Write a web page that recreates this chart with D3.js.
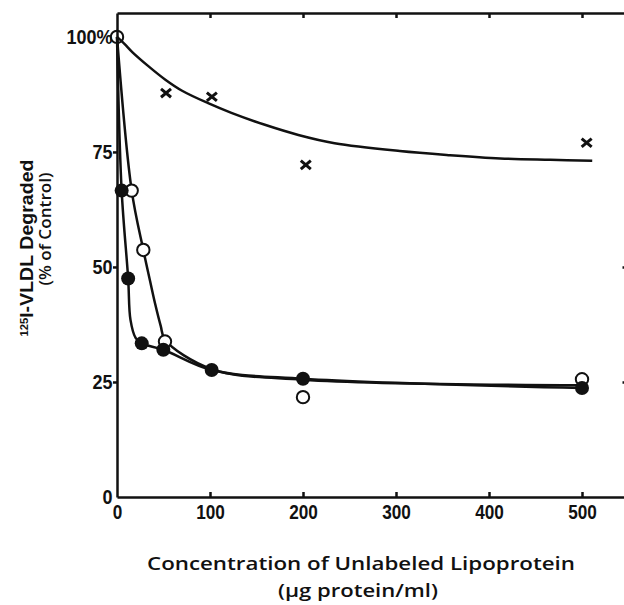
<!DOCTYPE html>
<html>
<head>
<meta charset="utf-8">
<script src="https://cdn.jsdelivr.net/npm/d3@7"></script>
<style>
  body { margin: 0; background: #fff; }
  svg { display: block; }
  .axis path, .axis line { stroke: #111; stroke-width: 2.5; }
  .axis text { font-family: "Liberation Sans", Arial, sans-serif; font-weight: bold; font-size: 20px; fill: #111; }
</style>
</head>
<body>
<div id="chart-area"></div>
<script>
// Data

// open circles
let openX = [0, 15.8, 28.3, 51.6, 200, 500];
let openY = [100, 66.6, 53.7, 33.8, 21.7, 25.6];

// filled circles
let filledX = [5, 12, 26.6, 49.8, 101.8, 200, 500];
let filledY = [66.6, 47.5, 33.4, 32.0, 27.6, 25.7, 23.7];

// crosses
let crossX = [52.7, 102, 203, 505];
let crossY = [87.8, 87.0, 72.2, 77.0];

// drawn curves
let openCurveX = [0, 15.8, 28.3, 35.5, 41, 47, 51.6, 101.8, 200, 500];
let openCurveY = [100, 66.6, 53.7, 47.0, 42.0, 37.2, 34.2, 27.8, 25.5, 24.3];

let filledCurveX = [0, 5, 12, 14.5, 20, 26.6, 49.8, 101.8, 200, 500];
let filledCurveY = [100, 66.6, 47.5, 38.5, 34.6, 33.4, 32.0, 27.6, 25.7, 23.7];

let crossCurveX = [0, 8, 17, 34, 52, 70, 98, 123, 159, 195, 234, 304, 358, 412, 466, 511];
let crossCurveY = [100, 98.5, 96.6, 93.6, 90.7, 88.3, 85.6, 83.5, 80.9, 78.7, 76.9, 75.2, 74.3, 73.6, 73.3, 73.1];

// ticks
let xTicks = [0, 100, 200, 300, 400, 500];
let yTicks = [0, 25, 50, 75, 100];


// SVG drawing area
let margin = {top: 13, right: 0, bottom: 108, left: 117};
let width = 511.5,
    height = 484;

let svg = d3.select("#chart-area").append("svg")
    .attr("width", 624)
    .attr("height", 605)
    .append("g")
    .attr("transform", "translate(" + margin.left + "," + margin.top + ")");

// Scales
let x = d3.scaleLinear().domain([0, 550]).range([0, width]);
let y = d3.scaleLinear().domain([0, 105.2]).range([height, 0]);

function zip(xs, ys) {
    return xs.map((v, i) => ({x: v, y: ys[i]}));
}

// Axes (the frame)
let xAxis = svg.append("g")
    .attr("class", "axis")
    .attr("transform", "translate(0," + height + ")")
    .call(d3.axisBottom(x).tickValues(xTicks).tickSize(-5).tickSizeOuter(0).tickPadding(8));
xAxis.selectAll(".tick").filter(d => d === 0).select("line").remove();
xAxis.selectAll("text").attr("transform", "scale(0.86,1)");

svg.append("g")
    .attr("class", "axis")
    .call(d3.axisTop(x).tickValues(xTicks.slice(1)).tickSize(-5).tickSizeOuter(0).tickFormat(""));

let yAxis = svg.append("g")
    .attr("class", "axis")
    .call(d3.axisLeft(y).tickValues(yTicks).tickSize(4).tickSizeOuter(0).tickPadding(1)
        .tickFormat(d => d === 100 ? "100%" : d));
yAxis.selectAll(".tick").filter(d => d === 0 || d === 100).select("line").remove();
yAxis.selectAll("text").attr("transform", "scale(0.9,1)");

svg.append("g")
    .attr("class", "axis")
    .attr("transform", "translate(" + width + ",0)")
    .call(d3.axisRight(y).tickValues([25, 50]).tickSize(-6).tickSizeOuter(0).tickFormat(""));

// Lines
let line = d3.line()
    .x(d => x(d.x))
    .y(d => y(d.y))
    .curve(d3.curveCatmullRom.alpha(0.5));

[[crossCurveX, crossCurveY], [openCurveX, openCurveY], [filledCurveX, filledCurveY]].forEach(c => {
    svg.append("path")
        .attr("d", line(zip(c[0], c[1])))
        .attr("fill", "none")
        .attr("stroke", "#111")
        .attr("stroke-width", 2.5);
});

// Crosses
svg.selectAll(".cross")
    .data(zip(crossX, crossY))
    .enter().append("path")
    .attr("class", "cross")
    .attr("d", d => {
        let cx = x(d.x), cy = y(d.y), s = 5, t = 4.2;
        return "M" + (cx - s) + "," + (cy - t) + "L" + (cx + s) + "," + (cy + t) +
            "M" + (cx - s) + "," + (cy + t) + "L" + (cx + s) + "," + (cy - t);
    })
    .attr("stroke", "#111")
    .attr("stroke-width", 3);

// Open circles
svg.selectAll(".open")
    .data(zip(openX, openY))
    .enter().append("circle")
    .attr("class", "open")
    .attr("cx", d => x(d.x))
    .attr("cy", d => y(d.y))
    .attr("r", 6.2)
    .attr("fill", (d, i) => i === 0 ? "none" : "#fff")
    .attr("stroke", "#111")
    .attr("stroke-width", 2);

// Filled circles
svg.selectAll(".filled")
    .data(zip(filledX, filledY))
    .enter().append("circle")
    .attr("class", "filled")
    .attr("cx", d => x(d.x))
    .attr("cy", d => y(d.y))
    .attr("r", 7)
    .attr("fill", "#111");

// Axis titles
let root = d3.select("svg");

root.append("text")
    .attr("x", 361)
    .attr("y", 570)
    .attr("text-anchor", "middle")
    .attr("textLength", 428)
    .attr("lengthAdjust", "spacingAndGlyphs")
    .style("font-family", "'Open Sans', 'DejaVu Sans', sans-serif")
    .style("font-weight", "600")
    .style("font-size", "18px")
    .style("fill", "#111")
    .text("Concentration of Unlabeled Lipoprotein");

root.append("text")
    .attr("x", 358)
    .attr("y", 597)
    .attr("text-anchor", "middle")
    .attr("textLength", 160)
    .attr("lengthAdjust", "spacingAndGlyphs")
    .style("font-family", "'Open Sans', 'DejaVu Sans', sans-serif")
    .style("font-weight", "600")
    .style("font-size", "18px")
    .style("fill", "#111")
    .text("(\u03bcg protein/ml)");

let yTitle = root.append("text")
    .attr("transform", "translate(33,248) rotate(-90)")
    .attr("text-anchor", "middle")
    .attr("textLength", 177)
    .attr("lengthAdjust", "spacingAndGlyphs")
    .style("font-family", "'Liberation Sans', Arial, sans-serif")
    .style("font-weight", "bold")
    .style("font-size", "17.5px")
    .style("fill", "#111");
yTitle.append("tspan").attr("baseline-shift", "super").style("font-size", "10px").text("125");
yTitle.append("tspan").text("I-VLDL  Degraded");

root.append("text")
    .attr("transform", "translate(51,229) rotate(-90)")
    .attr("text-anchor", "middle")
    .attr("textLength", 113)
    .attr("lengthAdjust", "spacingAndGlyphs")
    .style("font-family", "'Open Sans', 'DejaVu Sans', sans-serif")
    .style("font-weight", "600")
    .style("font-size", "16px")
    .style("fill", "#111")
    .text("(% of Control)");
</script>
</body>
</html>
